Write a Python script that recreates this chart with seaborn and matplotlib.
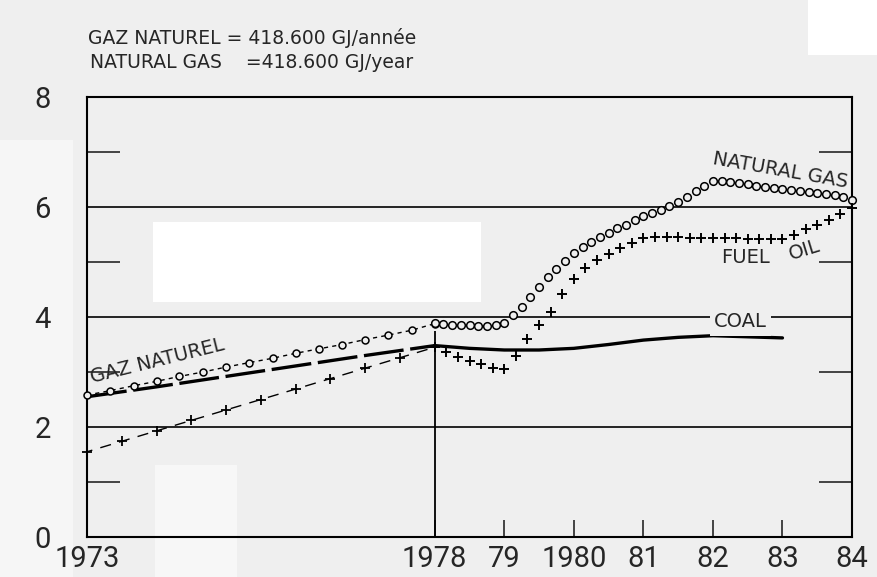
import matplotlib
matplotlib.use('Agg')
import matplotlib.pyplot as plt
import seaborn as sns
import pandas as pd
from matplotlib.patches import Rectangle
import warnings
warnings.filterwarnings('ignore')

# values (GJ units, 1973-1984)
gas_pre_years = [1973.0, 1973.33, 1973.67, 1974.0, 1974.33, 1974.67, 1975.0, 1975.33,
                 1975.67, 1976.0, 1976.33, 1976.67, 1977.0, 1977.33, 1977.67, 1978.0]
gas_pre = [2.58, 2.66, 2.75, 2.83, 2.92, 3.00, 3.09, 3.17,
           3.25, 3.34, 3.42, 3.50, 3.59, 3.67, 3.76, 3.88]

gas_post_years = [1978.0, 1978.125, 1978.25, 1978.375, 1978.5, 1978.625, 1978.75, 1978.875,
                  1979.0, 1979.125, 1979.25, 1979.375, 1979.5, 1979.625, 1979.75, 1979.875,
                  1980.0, 1980.125, 1980.25, 1980.375, 1980.5, 1980.625, 1980.75, 1980.875,
                  1981.0, 1981.125, 1981.25, 1981.375, 1981.5, 1981.625, 1981.75, 1981.875,
                  1982.0, 1982.125, 1982.25, 1982.375, 1982.5, 1982.625, 1982.75, 1982.875,
                  1983.0, 1983.125, 1983.25, 1983.375, 1983.5, 1983.625, 1983.75, 1983.875,
                  1984.0]
gas_post = [3.89, 3.87, 3.86, 3.85, 3.85, 3.84, 3.84, 3.85,
            3.90, 4.03, 4.19, 4.37, 4.55, 4.72, 4.88, 5.02,
            5.16, 5.28, 5.37, 5.45, 5.53, 5.61, 5.68, 5.76,
            5.84, 5.90, 5.95, 6.02, 6.10, 6.19, 6.29, 6.39,
            6.48, 6.47, 6.45, 6.43, 6.41, 6.39, 6.37, 6.35,
            6.33, 6.31, 6.29, 6.27, 6.25, 6.23, 6.21, 6.18,
            6.13]

oil_pre_years = [1973.0, 1973.5, 1974.0, 1974.5, 1975.0, 1975.5, 1976.0, 1976.5,
                 1977.0, 1977.5, 1978.0]
oil_pre = [1.55, 1.74, 1.93, 2.12, 2.31, 2.50, 2.69, 2.88, 3.07, 3.26, 3.45]

oil_post_years = [1978.0, 1978.167, 1978.333, 1978.5, 1978.667, 1978.833,
                  1979.0, 1979.167, 1979.333, 1979.5, 1979.667, 1979.833,
                  1980.0, 1980.167, 1980.333, 1980.5, 1980.667, 1980.833,
                  1981.0, 1981.167, 1981.333, 1981.5, 1981.667, 1981.833,
                  1982.0, 1982.167, 1982.333, 1982.5, 1982.667, 1982.833,
                  1983.0, 1983.167, 1983.333, 1983.5, 1983.667, 1983.833,
                  1984.0]
oil_post = [3.45, 3.37, 3.28, 3.20, 3.14, 3.08,
            3.06, 3.30, 3.60, 3.86, 4.10, 4.42,
            4.70, 4.90, 5.04, 5.15, 5.25, 5.35,
            5.44, 5.45, 5.45, 5.45, 5.44, 5.44,
            5.43, 5.43, 5.43, 5.42, 5.42, 5.42,
            5.42, 5.50, 5.60, 5.68, 5.77, 5.87,
            5.98]

coal_pre_years = [1973, 1974, 1975, 1976, 1977, 1978]
coal_pre = [2.55, 2.73, 2.92, 3.11, 3.30, 3.48]
coal_post_years = [1978.0, 1978.5, 1979.0, 1979.5, 1980.0, 1980.5, 1981.0,
                   1981.5, 1982.0, 1982.5, 1983.0]
coal_post = [3.48, 3.43, 3.40, 3.40, 3.43, 3.50, 3.58, 3.63, 3.66, 3.64, 3.62]

x_ticks = [1973, 1978, 1979, 1980, 1981, 1982, 1983, 1984]
x_labels = ['1973', '1978', '79', '1980', '81', '82', '83', '84']
y_ticks = [0, 2, 4, 6, 8]
y_minor = [1, 3, 5, 7]

header_fr = 'GAZ NATUREL = 418.600 GJ/année'
header_en = 'NATURAL GAS    =418.600 GJ/year'

bg = '#efefef'
sns.set_style('ticks')
plt.rcParams['font.family'] = ['DejaVu Sans']

fig = plt.figure(figsize=(8.77, 5.77), dpi=100, facecolor=bg)
ax = fig.add_axes([87 / 877, 40 / 577, 765 / 877, 440 / 577])
ax.set_facecolor('none')

# scan artefacts (lighter patches)
for (x0, y0, w, h, c) in [(0.921, 0.905, 0.079, 0.095, 'white'),
                          (0.0, 0.0, 0.083, 0.757, '#f6f6f6'),
                          (0.1767, 0.0, 0.0935, 0.194, '#f7f7f7'),
                          (0.1745, 0.4766, 0.374, 0.1386, 'white')]:
    fig.patches.append(Rectangle((x0, y0), w, h, transform=fig.transFigure,
                                 facecolor=c, edgecolor='none', zorder=-5))

# grid lines and 1978 divider
for yv in [2, 4, 6]:
    ax.axhline(yv, color='black', lw=1.2, zorder=1)
ax.vlines(1978, 0, 3.75, color='black', lw=1.3, zorder=1)

# natural gas
sns.lineplot(x=gas_pre_years, y=gas_pre, ax=ax, color='black', lw=1.0,
             linestyle=(0, (3, 3)), marker='o', markersize=5, clip_on=False,
             markerfacecolor=bg, markeredgecolor='black', markeredgewidth=1.1, zorder=3)
sns.lineplot(x=gas_post_years, y=gas_post, ax=ax, color='black', linestyle='none',
             marker='o', markersize=5.5, markerfacecolor=bg, markeredgecolor='black',
             markeredgewidth=1.1, clip_on=False, zorder=3)

# fuel oil
sns.lineplot(x=oil_pre_years, y=oil_pre, ax=ax, color='black', lw=1.0,
             linestyle=(4, (8, 6)), marker='+', markersize=7.5, markeredgewidth=1.3,
             markeredgecolor='black', clip_on=False, zorder=3)
sns.lineplot(x=oil_post_years, y=oil_post, ax=ax, color='black', linestyle='none',
             marker='+', markersize=7.5, markeredgewidth=1.4, markeredgecolor='black',
             clip_on=False, zorder=3)

# coal
sns.lineplot(x=coal_pre_years, y=coal_pre, ax=ax, color='black', lw=2.4,
             linestyle=(0, (12, 2)), zorder=2)
sns.lineplot(x=coal_post_years, y=coal_post, ax=ax, color='black', lw=2.4, zorder=2)

# in-chart labels
lab_kw = dict(fontsize=14, ha='left', va='baseline', rotation_mode='anchor')
ax.text(1973.07, 2.80, 'GAZ NATUREL', rotation=14, **lab_kw)
ax.text(1981.99, 6.78, 'NATURAL GAS', rotation=-10, **lab_kw)
ax.text(1982.12, 4.98, 'FUEL', **lab_kw)
ax.text(1983.12, 5.04, 'OIL', rotation=17, **lab_kw)
ax.text(1982.40, 3.91, 'COAL', fontsize=14, ha='center', va='center', zorder=4,
        bbox=dict(facecolor=bg, edgecolor='none', pad=3))

fig.text(88 / 877, 1 - 44 / 577, header_fr, fontsize=13.5, ha='left', va='baseline')
fig.text(90 / 877, 1 - 68 / 577, header_en, fontsize=13.5, ha='left', va='baseline')

ax.set_xlim(1973, 1984)
ax.set_ylim(0, 8)
ax.set_xticks(x_ticks)
ax.set_xticklabels(x_labels)
ax.set_yticks(y_ticks)
ax.set_yticks(y_minor, minor=True)
ax.tick_params(axis='y', which='major', length=0, pad=26, labelsize=21)
ax.tick_params(axis='y', which='minor', direction='in', length=24, width=1.2,
               left=True, right=True)
ax.tick_params(axis='x', which='major', direction='in', length=12, width=1.2,
               pad=6, labelsize=21)
for lab in ax.get_xticklabels() + ax.get_yticklabels():
    lab.set_family(['Roboto', 'DejaVu Sans'])
for sp in ax.spines.values():
    sp.set_visible(True)
    sp.set_linewidth(1.5)
    sp.set_color('black')
ax.set_xlabel('')
ax.set_ylabel('')

fig.savefig('out.png', dpi=100, facecolor=bg)
